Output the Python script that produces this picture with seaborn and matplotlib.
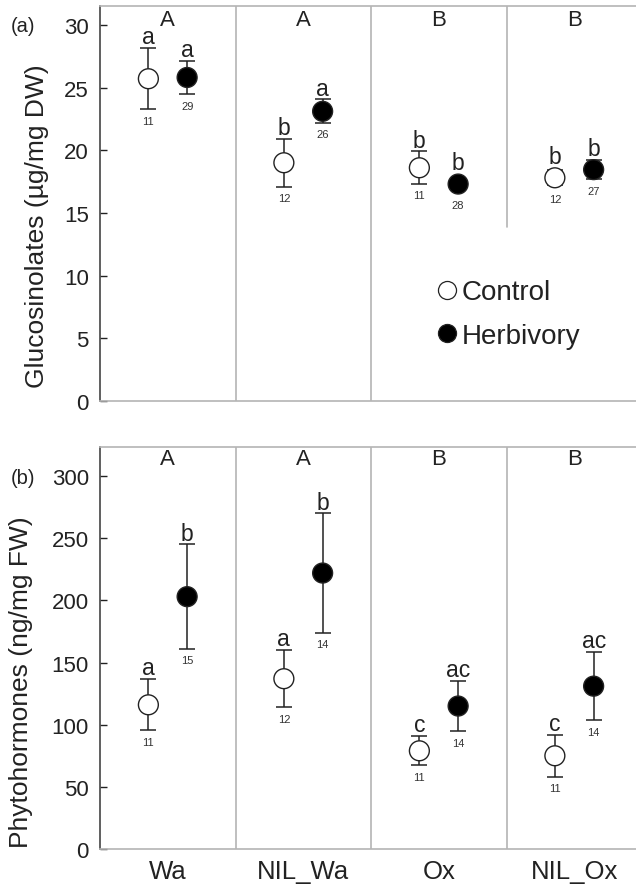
import numpy as np
import pandas as pd
import matplotlib
matplotlib.use("Agg")
import matplotlib.pyplot as plt
from matplotlib.lines import Line2D
import seaborn as sns

# ---------------- data ----------------
genotypes = ["Wa", "NIL_Wa", "Ox", "NIL_Ox"]
treatments = ["Control", "Herbivory"]
group_letters_gluc = ["A", "A", "B", "B"]
group_letters_phyto = ["A", "A", "B", "B"]

gluc_control_mean = [25.7, 19.0, 18.6, 17.8]
gluc_control_se = [2.45, 1.9, 1.3, 0.6]
gluc_control_n = [11, 12, 11, 12]
gluc_control_sig = ["a", "b", "b", "b"]
gluc_herb_mean = [25.8, 23.1, 17.3, 18.45]
gluc_herb_se = [1.35, 0.95, 0.3, 0.75]
gluc_herb_n = [29, 26, 28, 27]
gluc_herb_sig = ["a", "a", "b", "b"]

phyto_control_mean = [116.0, 137.0, 79.0, 75.0]
phyto_control_se = [20.5, 23.0, 11.8, 17.0]
phyto_control_n = [11, 12, 11, 11]
phyto_control_sig = ["a", "a", "c", "c"]
phyto_herb_mean = [203.0, 222.0, 115.0, 131.0]
phyto_herb_se = [42.0, 48.0, 20.3, 27.5]
phyto_herb_n = [15, 14, 14, 14]
phyto_herb_sig = ["b", "b", "ac", "ac"]

gluc_ticks = [0, 5, 10, 15, 20, 25, 30]
phyto_ticks = [0, 50, 100, 150, 200, 250, 300]


def make_df(cm, cs, cn, csig, hm, hs, hn, hsig):
    rows = []
    for i, g in enumerate(genotypes):
        rows.append(dict(genotype=g, treatment="Control", mean=cm[i], se=cs[i], n=cn[i], sig=csig[i]))
        rows.append(dict(genotype=g, treatment="Herbivory", mean=hm[i], se=hs[i], n=hn[i], sig=hsig[i]))
    df = pd.DataFrame(rows)
    gi = df["genotype"].map({g: i for i, g in enumerate(genotypes)})
    df["xpos"] = gi + np.where(df["treatment"] == "Control", -0.143, 0.143)
    return df


df_gluc = make_df(gluc_control_mean, gluc_control_se, gluc_control_n, gluc_control_sig,
                  gluc_herb_mean, gluc_herb_se, gluc_herb_n, gluc_herb_sig)
df_phyto = make_df(phyto_control_mean, phyto_control_se, phyto_control_n, phyto_control_sig,
                   phyto_herb_mean, phyto_herb_se, phyto_herb_n, phyto_herb_sig)

# ---------------- style ----------------
sns.set_theme(style="white")
plt.rcParams["font.family"] = ["Liberation Sans", "DejaVu Sans"]
TXT = "#222222"
GRID = "#b4b4b4"

fig = plt.figure(figsize=(6.36, 8.87), dpi=100)
W, H = 636.0, 887.0
ax1 = fig.add_axes([100 / W, (H - 402) / H, 542 / W, 395 / H])
ax2 = fig.add_axes([100 / W, (H - 850) / H, 542 / W, 402 / H])

palette = {"Control": "white", "Herbivory": "black"}
MS = 205  # marker area (pt^2)
radius_px = np.sqrt(MS) / 2 * 100 / 72


def draw_panel(ax, df, ylim, ticks, ylabel, group_letters, group_letter_y, sep_bottoms):
    ax.set_xlim(-0.5, 3.5)
    ax.set_ylim(*ylim)
    # separators
    for k, yb in enumerate(sep_bottoms):
        ax.plot([k + 0.5, k + 0.5], [yb, ylim[1]], color=GRID, lw=1.2, zorder=1)
    # error bars
    ax.errorbar(df["xpos"], df["mean"], yerr=df["se"], fmt="none", ecolor=TXT,
                elinewidth=1.1, capsize=5.8, capthick=1.1, zorder=2)
    sns.scatterplot(data=df, x="xpos", y="mean", hue="treatment", palette=palette,
                    s=MS, edgecolor=TXT, linewidth=1.0, legend=False, ax=ax, zorder=3)
    # significance letters and n
    fig.canvas.draw()
    tr = ax.transData
    inv = tr.inverted()
    for _, r in df.iterrows():
        top_err = tr.transform((r.xpos, r["mean"] + r.se))[1]
        top_mk = tr.transform((r.xpos, r["mean"]))[1] + radius_px
        top = inv.transform((0, max(top_err, top_mk)))[1]
        bot_err = tr.transform((r.xpos, r["mean"] - r.se))[1]
        bot_mk = tr.transform((r.xpos, r["mean"]))[1] - radius_px
        bot = inv.transform((0, min(bot_err, bot_mk)))[1]
        ax.annotate(r.sig, (r.xpos, top), xytext=(0, 3.5), textcoords="offset points",
                    ha="center", va="baseline", fontsize=16.5, color=TXT)
        ax.annotate(str(r.n), (r.xpos, bot), xytext=(0, -4.5), textcoords="offset points",
                    ha="center", va="top", fontsize=8, color="#333333")
    for i, L in enumerate(group_letters):
        ax.text(i, group_letter_y, L, ha="center", va="center", fontsize=16, color=TXT)
    ax.set_yticks(ticks)
    ax.tick_params(axis="y", direction="in", length=5, width=1.0, color=TXT,
                   labelsize=16, labelcolor=TXT, pad=8, left=True)
    ax.tick_params(axis="x", length=0)
    ax.set_ylabel(ylabel, fontsize=19, color=TXT)
    ax.set_xlabel("")
    for s in ["top", "bottom", "right"]:
        ax.spines[s].set_color(GRID)
        ax.spines[s].set_linewidth(1.2)
    ax.spines["left"].set_color("#444444")
    ax.spines["left"].set_linewidth(1.2)
    ax.set_facecolor("white")


draw_panel(ax1, df_gluc, (0, 31.5), gluc_ticks, "Glucosinolates (µg/mg DW)",
           group_letters_gluc, 30.45, [0, 0, 13.9])
draw_panel(ax2, df_phyto, (0, 323.4), phyto_ticks, "Phytohormones (ng/mg FW)",
           group_letters_phyto, 314, [0, 0, 0])

ax1.set_xticks([])
ax2.set_xticks(range(len(genotypes)))
ax2.set_xticklabels(genotypes, fontsize=18.5, color=TXT)
ax2.tick_params(axis="x", pad=7)

ax1.yaxis.set_label_coords(-0.094, 0.445)
ax2.yaxis.set_label_coords(-0.124, 0.417)

fig.text(22.5 / W, 1 - 27 / H, "(a)", fontsize=14.5, color=TXT, ha="center", va="center")
fig.text(22.5 / W, 1 - 479 / H, "(b)", fontsize=14.5, color=TXT, ha="center", va="center")

handles = [Line2D([], [], ls="none", marker="o", markersize=13, markerfacecolor="white",
                  markeredgecolor=TXT, markeredgewidth=0.9),
           Line2D([], [], ls="none", marker="o", markersize=13, markerfacecolor="black",
                  markeredgecolor=TXT, markeredgewidth=0.9)]
ax1.legend(handles, treatments, loc="upper left", bbox_to_anchor=(0.622, 0.308),
           frameon=False, fontsize=20, handlelength=0.72, handletextpad=0.15,
           labelspacing=0.63, borderpad=0, borderaxespad=0, labelcolor=TXT)

fig.savefig("out.png", dpi=100, facecolor="white")
